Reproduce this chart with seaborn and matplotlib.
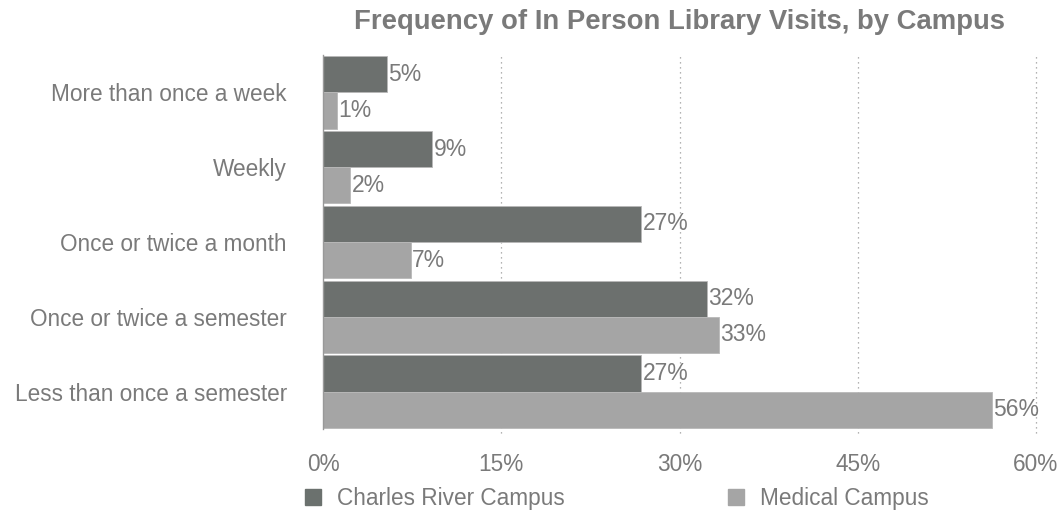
import matplotlib
matplotlib.use("Agg")
import matplotlib.pyplot as plt
import seaborn as sns
import pandas as pd
from matplotlib.patches import Patch

categories = ["More than once a week", "Weekly", "Once or twice a month",
              "Once or twice a semester", "Less than once a semester"]
charles_river = [5.4, 9.2, 26.8, 32.3, 26.8]
medical = [1.2, 2.3, 7.4, 33.3, 56.3]
series_names = ["Charles River Campus", "Medical Campus"]
xticks = [0, 15, 30, 45, 60]
xtick_labels = ["0%", "15%", "30%", "45%", "60%"]

df = pd.DataFrame({
    "category": categories * 2,
    "value": charles_river + medical,
    "campus": [series_names[0]] * 5 + [series_names[1]] * 5,
})

sns.set_theme(style="white")
plt.rcParams["font.family"] = ["Liberation Sans", "DejaVu Sans"]

dark = "#6b716e"
light = "#a5a5a5"
txt = "#7a7a7a"
fs = 16.3

fig = plt.figure(figsize=(10.62, 5.14), dpi=100)
ax = fig.add_axes([323 / 1062, 1 - 429 / 514, 713 / 1062, 374 / 514])

sns.barplot(data=df, y="category", x="value", hue="campus", order=categories,
            hue_order=series_names, palette=[dark, light], orient="h",
            width=0.97, ax=ax, legend=False, edgecolor="#b8b8b8", linewidth=0.6)

for cont in ax.containers:
    labels = [f"{round(b.get_width())}%" for b in cont]
    ax.bar_label(cont, labels=labels, padding=1, fontsize=16.5, color=txt)

ax.set_xlim(0, 60)
ax.set_ylim(4.5, -0.5)
ax.set_xticks(xticks)
ax.set_xticklabels(xtick_labels)
ax.set_xlabel("")
ax.set_ylabel("")
ax.tick_params(axis="x", colors=txt, labelsize=fs, length=0, pad=17)
ax.tick_params(axis="y", colors=txt, labelsize=fs, length=0, pad=26)
for lab in ax.get_xticklabels() + ax.get_yticklabels():
    lab.set_color(txt)

for sp in ["top", "right", "bottom"]:
    ax.spines[sp].set_visible(False)
ax.spines["left"].set_color("#999999")
ax.spines["left"].set_linewidth(1)

for x in xticks[1:]:
    ax.axvline(x, ymin=-0.01, ymax=1.0, color="#9a9a9a", linestyle=(0, (1, 3)),
               linewidth=0.9, zorder=0, clip_on=False)

fig.text(680 / 1062, 1 - 22 / 514, "Frequency of In Person Library Visits, by Campus",
         ha="center", va="center", fontsize=19.8, fontweight="bold", color=txt)

handles = [Patch(facecolor=dark, edgecolor=dark), Patch(facecolor=light, edgecolor=light)]
fig.legend(handles, series_names, loc="center left", bbox_to_anchor=(285 / 1062, 1 - 498 / 514),
           ncol=2, frameon=False, fontsize=fs, labelcolor=txt, handlelength=0.7,
           handleheight=0.7, handletextpad=0.7, columnspacing=7.2)

fig.savefig("out.png", dpi=100)
